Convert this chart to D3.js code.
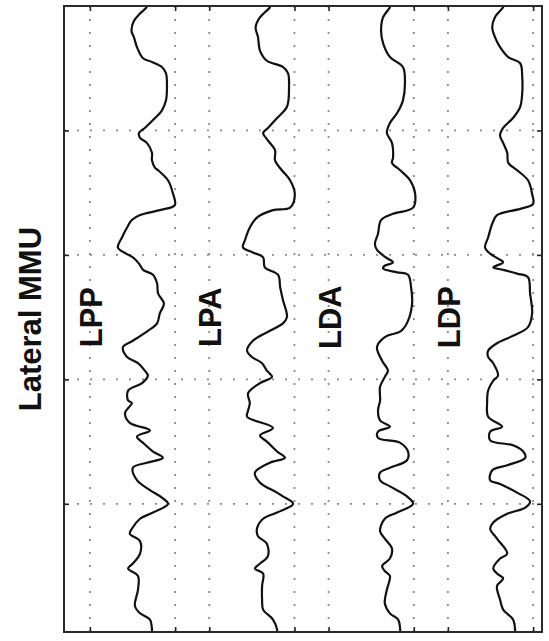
<!DOCTYPE html>
<html>
<head>
<meta charset="utf-8">
<script src="https://cdn.jsdelivr.net/npm/d3@7"></script>
<style>
  html, body { margin: 0; padding: 0; background: #fff; }
  svg { display: block; }
</style>
</head>
<body>
<svg id="chart" width="549" height="641"></svg>
<script>
// Channel names, drawn as vertical traces side by side
const channels = ["LPP", "LPA", "LDA", "LDP"];
const axisTitle = "Lateral MMU";

// Horizontal spacing between channel baselines (value units)
const channelOffset = 3.5;

// Grid / tick values
const xTicks = [0, 2.5, 3.5, 6, 7, 9.5, 10.5, 13];
const yTicks = [1, 2, 3, 4];
const xDomain = [-0.76, 13.26];
const yDomain = [0, 5.03];

// Each trace: [time, value] pairs (value relative to the channel baseline)
const lpp = [
  [0.00, 1.66], [0.01, 1.66], [0.06, 1.47], [0.12, 1.29], [0.20, 1.22], [0.25, 1.29], [0.33, 1.38],
  [0.42, 1.56], [0.45, 1.82], [0.49, 2.11], [0.54, 2.23], [0.65, 2.26], [0.76, 2.23], [0.84, 2.11],
  [0.90, 1.91], [0.98, 1.61], [1.02, 1.44], [1.06, 1.47], [1.10, 1.67], [1.18, 1.82], [1.24, 1.82],
  [1.30, 1.91], [1.32, 2.00], [1.40, 2.29], [1.51, 2.44], [1.60, 2.49], [1.64, 2.05], [1.68, 1.47],
  [1.72, 1.23], [1.78, 1.09], [1.86, 0.94], [1.94, 0.82], [1.99, 1.06], [2.02, 1.26], [2.07, 1.44],
  [2.12, 1.56], [2.16, 1.85], [2.23, 1.97], [2.31, 2.00], [2.39, 2.17], [2.47, 2.05], [2.55, 1.97],
  [2.61, 1.70], [2.69, 1.26], [2.74, 0.97], [2.82, 1.09], [2.87, 1.41], [2.93, 1.61], [2.97, 1.70],
  [3.03, 1.53], [3.09, 1.12], [3.17, 1.12], [3.19, 1.23], [3.27, 1.03], [3.35, 1.17], [3.41, 1.76],
  [3.46, 1.38], [3.51, 1.56], [3.58, 1.85], [3.63, 2.14], [3.67, 1.67], [3.71, 1.26], [3.81, 1.38],
  [3.89, 1.76], [3.95, 2.11], [4.00, 2.29], [4.07, 1.85], [4.12, 1.47],
  [4.20, 1.23], [4.24, 1.17], [4.30, 1.47], [4.40, 1.47], [4.48, 1.26], [4.52, 1.12], [4.58, 1.41],
  [4.69, 1.41], [4.82, 1.32], [4.88, 1.47], [4.93, 1.76], [5.01, 1.82], [5.03, 1.82]
];

const lpa = [
  [0.00, 1.78], [0.01, 1.78], [0.09, 1.49], [0.17, 1.36], [0.25, 1.43], [0.36, 1.49], [0.44, 1.69],
  [0.49, 2.16], [0.54, 2.31], [0.65, 2.34], [0.81, 2.28], [0.90, 1.99], [0.98, 1.72], [1.02, 1.58],
  [1.08, 1.72], [1.16, 1.93], [1.24, 1.93], [1.32, 2.13], [1.40, 2.37], [1.51, 2.51], [1.62, 2.37],
  [1.64, 1.87], [1.70, 1.40], [1.78, 1.19], [1.88, 1.05], [1.94, 0.99], [1.98, 1.28], [2.02, 1.58],
  [2.10, 1.63], [2.16, 2.02], [2.26, 2.08], [2.36, 2.16], [2.50, 2.28], [2.55, 2.16], [2.61, 1.78],
  [2.69, 1.28], [2.77, 1.11], [2.82, 1.25], [2.87, 1.55], [2.93, 1.69], [2.98, 1.84], [3.03, 1.49],
  [3.11, 1.14], [3.19, 1.19], [3.25, 1.14], [3.30, 1.11], [3.39, 1.87], [3.45, 1.49], [3.50, 1.69],
  [3.58, 1.99], [3.63, 2.22], [3.67, 1.78], [3.75, 1.34], [3.83, 1.49], [3.91, 1.99], [3.94, 2.16],
  [4.00, 2.46], [4.07, 1.99], [4.12, 1.58], [4.20, 1.40], [4.26, 1.43],
  [4.32, 1.69], [4.42, 1.72], [4.48, 1.49], [4.52, 1.34], [4.56, 1.58], [4.66, 1.55], [4.77, 1.55],
  [4.85, 1.58], [4.93, 1.87], [5.01, 1.99], [5.03, 1.99]
];

const lda = [
  [0.00, 1.80], [0.01, 1.80], [0.09, 1.60], [0.20, 1.54], [0.30, 1.60], [0.41, 1.80], [0.49, 2.18],
  [0.60, 2.24], [0.76, 2.18], [0.86, 2.01], [0.94, 1.80], [1.02, 1.71], [1.10, 1.86], [1.22, 1.89],
  [1.26, 1.86], [1.32, 2.10], [1.40, 2.39], [1.51, 2.54], [1.62, 2.48], [1.67, 1.89], [1.72, 1.54],
  [1.83, 1.45], [1.91, 1.36], [1.96, 1.42], [2.02, 1.68], [2.06, 1.89], [2.09, 1.63], [2.11, 1.60],
  [2.14, 2.01], [2.16, 2.33], [2.26, 2.42], [2.39, 2.45], [2.53, 2.33], [2.61, 2.13], [2.66, 1.65],
  [2.74, 1.42], [2.85, 1.57], [2.93, 1.74], [2.98, 1.65], [3.06, 1.51], [3.17, 1.51], [3.25, 1.45],
  [3.33, 1.51], [3.38, 1.80], [3.42, 1.45], [3.47, 1.45], [3.51, 2.10], [3.58, 2.33], [3.65, 2.30],
  [3.71, 1.80], [3.75, 1.51], [3.81, 1.51], [3.86, 1.80], [3.94, 2.30], [4.00, 2.48], [4.07, 2.01],
  [4.12, 1.65], [4.22, 1.51], [4.28, 1.65], [4.36, 1.86], [4.44, 1.80], [4.50, 1.57], [4.54, 1.65],
  [4.58, 1.80], [4.69, 1.71], [4.80, 1.65], [4.88, 1.80], [4.93, 2.04], [5.01, 2.10], [5.03, 2.10]
];

const ldp = [
  [0.00, 1.62], [0.01, 1.62], [0.09, 1.38], [0.17, 1.30], [0.25, 1.38], [0.33, 1.53], [0.41, 1.77],
  [0.46, 2.12], [0.57, 2.18], [0.70, 2.18], [0.81, 2.12], [0.90, 1.91], [0.98, 1.62], [1.04, 1.53],
  [1.10, 1.62], [1.18, 1.74], [1.26, 1.77], [1.32, 2.03], [1.40, 2.35], [1.51, 2.47], [1.59, 2.50],
  [1.63, 2.12], [1.68, 1.44], [1.75, 1.30], [1.86, 1.18], [1.94, 1.09], [1.99, 1.24], [2.03, 1.47],
  [2.06, 1.62], [2.10, 1.33], [2.12, 1.62], [2.15, 2.03], [2.18, 2.35], [2.31, 2.41], [2.47, 2.47],
  [2.58, 2.35], [2.65, 1.91], [2.71, 1.44], [2.77, 1.18], [2.82, 1.18], [2.87, 1.33], [2.97, 1.47],
  [3.01, 1.33], [3.09, 1.18], [3.19, 1.15], [3.30, 1.18], [3.38, 1.59], [3.42, 1.24], [3.49, 1.24],
  [3.53, 1.91], [3.58, 2.21], [3.63, 2.27], [3.69, 1.74], [3.73, 1.30], [3.81, 1.24], [3.84, 1.53],
  [3.91, 2.03], [3.98, 2.41], [4.03, 2.27], [4.08, 1.74], [4.15, 1.33], [4.20, 1.24], [4.28, 1.44],
  [4.40, 1.74], [4.44, 1.53], [4.52, 1.33], [4.56, 1.44], [4.60, 1.62], [4.66, 1.44], [4.77, 1.53],
  [4.85, 1.62], [4.93, 1.91], [5.01, 1.97], [5.03, 1.97]
];

const traces = [lpp, lpa, lda, ldp];

// ---- layout ----
const margin = { top: 6, left: 64 };
const width = 478, height = 626;

const svg = d3.select("#chart");
const g = svg.append("g").attr("transform", `translate(${margin.left},${margin.top})`);

const x = d3.scaleLinear().domain(xDomain).range([0, width]);
const y = d3.scaleLinear().domain(yDomain).range([0, height]);

// dotted grid
const gridStyle = sel => sel.selectAll("line")
  .attr("stroke", "#8a8a8a")
  .attr("stroke-width", 1.8)
  .attr("stroke-dasharray", "2,11");

g.append("g").attr("class", "grid-x")
  .selectAll("line").data(xTicks).join("line")
  .attr("x1", d => x(d)).attr("x2", d => x(d))
  .attr("y1", 0).attr("y2", height);
g.append("g").attr("class", "grid-y")
  .selectAll("line").data(yTicks).join("line")
  .attr("x1", 0).attr("x2", width)
  .attr("y1", d => y(d)).attr("y2", d => y(d));
g.selectAll(".grid-x, .grid-y").call(gridStyle);

// traces
const line = d3.line()
  .x(d => d.x)
  .y(d => d.y)
  .curve(d3.curveCatmullRom.alpha(0.5));

traces.forEach((tr, i) => {
  const pts = tr.map(([t, v]) => ({ x: x(v + i * channelOffset), y: y(t) }));
  g.append("path")
    .attr("d", line(pts))
    .attr("fill", "none")
    .attr("stroke", "#111")
    .attr("stroke-width", 2.2)
    .attr("stroke-linejoin", "round");
});

// axes with inward ticks, no labels (box on all four sides)
const tickLen = 5;
const styleAxis = sel => {
  sel.select(".domain").remove();
  sel.selectAll("text").remove();
  sel.selectAll(".tick line").attr("stroke", "#222").attr("stroke-width", 1.6);
};
g.append("g").attr("transform", `translate(0,${height})`)
  .call(d3.axisBottom(x).tickValues(xTicks).tickSize(-tickLen).tickFormat(""))
  .call(styleAxis);
g.append("g")
  .call(d3.axisTop(x).tickValues(xTicks).tickSize(-tickLen).tickFormat(""))
  .call(styleAxis);
g.append("g")
  .call(d3.axisLeft(y).tickValues(yTicks).tickSize(-tickLen).tickFormat(""))
  .call(styleAxis);
g.append("g").attr("transform", `translate(${width},0)`)
  .call(d3.axisRight(y).tickValues(yTicks).tickSize(-tickLen).tickFormat(""))
  .call(styleAxis);

// frame
g.append("rect")
  .attr("x", 0).attr("y", 0).attr("width", width).attr("height", height)
  .attr("fill", "none").attr("stroke", "#2a2a2a").attr("stroke-width", 2);

// channel labels, rotated
const labelPos = 0.35, labelTime = 2.5;
channels.forEach((name, i) => {
  const lx = x(i * channelOffset + labelPos), ly = y(labelTime);
  g.append("text")
    .attr("transform", `translate(${lx},${ly}) rotate(-90)`)
    .attr("text-anchor", "middle")
    .attr("font-family", "'Liberation Sans', Arial, Helvetica, sans-serif")
    .attr("font-weight", "bold")
    .attr("font-size", 31)
    .attr("fill", "#111")
    .text(name);
});

// axis title
svg.append("text")
  .attr("transform", `translate(41,${margin.top + y(2.5) + 2}) rotate(-90)`)
  .attr("text-anchor", "middle")
  .attr("font-family", "'Liberation Sans', Arial, Helvetica, sans-serif")
  .attr("font-weight", "bold")
  .attr("font-size", 31)
  .attr("fill", "#111")
  .text(axisTitle);
</script>
</body>
</html>
